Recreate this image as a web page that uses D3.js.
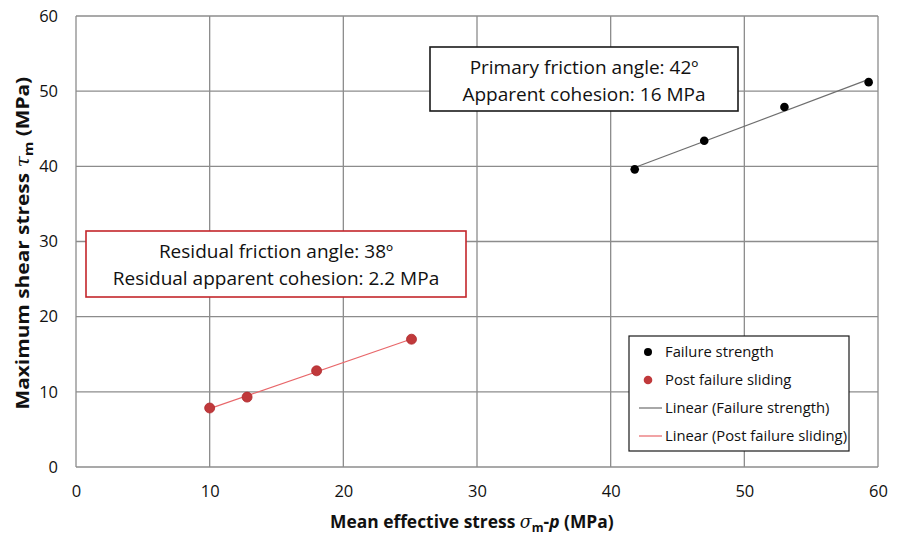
<!DOCTYPE html>
<html>
<head>
<meta charset="utf-8">
<script src="https://cdn.jsdelivr.net/npm/d3@7"></script>
<style>
  body { margin: 0; background: #fff; }
  svg { display: block; font-family: "Open Sans", "Noto Sans", sans-serif; }
</style>
</head>
<body>
<svg id="chart" width="901" height="537"></svg>
<script>
// Mean effective stress vs. maximum shear stress (MPa)
const failureX = [41.8, 47.0, 53.0, 59.3];
const failureY = [39.6, 43.4, 47.9, 51.2];
const slidingX = [10.0, 12.8, 18.0, 25.1];
const slidingY = [7.85, 9.3, 12.8, 17.0];
const xTicks = [0, 10, 20, 30, 40, 50, 60];
const yTicks = [0, 10, 20, 30, 40, 50, 60];
const primaryNotes = ["Primary friction angle: 42\u00BA", "Apparent cohesion: 16 MPa"];
const residualNotes = ["Residual friction angle: 38\u00BA", "Residual apparent cohesion: 2.2 MPa"];
const legendItems = ["Failure strength", "Post failure sliding", "Linear (Failure strength)", "Linear (Post failure sliding)"];

const svg = d3.select("#chart");
const margin = { left: 76, right: 23, top: 16, bottom: 70 };
const W = 901, H = 537;
const x = d3.scaleLinear().domain([0, 60]).range([margin.left, W - margin.right]);
const y = d3.scaleLinear().domain([0, 60]).range([H - margin.bottom, margin.top]);

const gridColor = "#8c8c8c";
const g = svg.append("g");

// grid
g.selectAll(".vg").data(xTicks).join("line")
  .attr("x1", d => x(d)).attr("x2", d => x(d))
  .attr("y1", y(0)).attr("y2", y(60))
  .attr("stroke", gridColor).attr("stroke-width", 1.3);
g.selectAll(".hg").data(yTicks).join("line")
  .attr("y1", d => y(d)).attr("y2", d => y(d))
  .attr("x1", x(0)).attr("x2", x(60))
  .attr("stroke", gridColor).attr("stroke-width", 1.3);

// axes tick labels
const xAxis = d3.axisBottom(x).tickValues(xTicks).tickSize(0).tickPadding(18);
const yAxis = d3.axisLeft(y).tickValues(yTicks).tickSize(0).tickPadding(18);
const gx = svg.append("g").attr("transform", `translate(0,${y(0)})`).call(xAxis);
const gy = svg.append("g").attr("transform", `translate(${x(0)},0)`).call(yAxis);
[gx, gy].forEach(a => {
  a.select(".domain").remove();
  a.selectAll("text").attr("font-size", 16.5).attr("fill", "#111")
    .attr("font-family", "'Open Sans', sans-serif");
});

// linear fits
function fit(xs, ys) {
  const mx = d3.mean(xs), my = d3.mean(ys);
  const sxy = d3.sum(xs, (v, i) => (v - mx) * (ys[i] - my));
  const sxx = d3.sum(xs, v => (v - mx) * (v - mx));
  const b = sxy / sxx;
  return v => my + b * (v - mx);
}
const fF = fit(failureX, failureY);
const fS = fit(slidingX, slidingY);
const ext = d3.extent(failureX), extS = d3.extent(slidingX);
svg.append("line")
  .attr("x1", x(ext[0])).attr("y1", y(fF(ext[0])))
  .attr("x2", x(ext[1])).attr("y2", y(fF(ext[1])))
  .attr("stroke", "#6e6e6e").attr("stroke-width", 1.2);
svg.append("line")
  .attr("x1", x(extS[0])).attr("y1", y(fS(extS[0])))
  .attr("x2", x(extS[1])).attr("y2", y(fS(extS[1])))
  .attr("stroke", "#e8676a").attr("stroke-width", 1.2);

// points
svg.append("g").selectAll("circle").data(failureX).join("circle")
  .attr("cx", d => x(d)).attr("cy", (d, i) => y(failureY[i])).attr("r", 4.3)
  .attr("fill", "#000");
svg.append("g").selectAll("circle").data(slidingX).join("circle")
  .attr("cx", d => x(d)).attr("cy", (d, i) => y(slidingY[i])).attr("r", 5)
  .attr("fill", "#c0393b").attr("stroke", "#b02a2d").attr("stroke-width", 0.8);

// annotation boxes
function noteBox(x0, y0, w, h, lines, stroke) {
  svg.append("rect").attr("x", x0).attr("y", y0).attr("width", w).attr("height", h)
    .attr("fill", "#fff").attr("stroke", stroke).attr("stroke-width", 1.6);
  svg.append("g").selectAll("text").data(lines).join("text")
    .attr("x", x0 + w / 2).attr("y", (d, i) => y0 + 27 + i * 27)
    .attr("text-anchor", "middle").attr("font-size", 19).attr("fill", "#111")
    .text(d => d);
}
noteBox(430, 47, 308, 64, primaryNotes, "#1a1a1a");
noteBox(86, 231, 380, 66, residualNotes, "#c4262b");

// legend
const lg = svg.append("g").attr("transform", "translate(629,336)");
lg.append("rect").attr("width", 220).attr("height", 115)
  .attr("fill", "#fff").attr("stroke", "#1a1a1a").attr("stroke-width", 1.2);
const rowY = i => 16 + i * 28;
lg.append("circle").attr("cx", 19).attr("cy", rowY(0)).attr("r", 4).attr("fill", "#000");
lg.append("circle").attr("cx", 19).attr("cy", rowY(1)).attr("r", 4.3).attr("fill", "#c0393b");
lg.append("line").attr("x1", 10).attr("x2", 33).attr("y1", rowY(2)).attr("y2", rowY(2))
  .attr("stroke", "#6e6e6e").attr("stroke-width", 1.2);
lg.append("line").attr("x1", 10).attr("x2", 33).attr("y1", rowY(3)).attr("y2", rowY(3))
  .attr("stroke", "#e8676a").attr("stroke-width", 1.2);
lg.selectAll(".lt").data(legendItems).join("text")
  .attr("x", 36).attr("y", (d, i) => rowY(i) + 5)
  .attr("font-size", 14.8).attr("fill", "#111").text(d => d);

// axis titles, centred and fitted to a given span
function fitTitle(t, cx, cy, span, rotate) {
  const bb = t.node().getBBox();
  const s = span / bb.width;
  t.attr("transform",
    `translate(${cx},${cy}) rotate(${rotate}) scale(${s},1) translate(${-bb.x - bb.width / 2},0)`);
}
const xt = svg.append("text").attr("x", 0).attr("y", 0)
  .attr("font-size", 18).attr("font-weight", "bold").attr("fill", "#111");
xt.append("tspan").text("Mean effective stress ");
xt.append("tspan").attr("font-style", "italic").attr("font-weight", "normal")
  .attr("font-family", "'DejaVu Serif', serif").text("\u03C3");
xt.append("tspan").attr("font-size", 12.5).attr("dy", 4).text("m");
xt.append("tspan").attr("dy", -4).text("-");
xt.append("tspan").attr("font-style", "italic").text("p");
xt.append("tspan").text(" (MPa)");
fitTitle(xt, 472, 528, 284, 0);

const yt = svg.append("text").attr("x", 0).attr("y", 0)
  .attr("font-size", 18).attr("font-weight", "bold").attr("fill", "#111");
yt.append("tspan").text("Maximum shear stress ");
yt.append("tspan").attr("font-style", "italic").attr("font-weight", "normal")
  .attr("font-family", "'DejaVu Serif', serif").text("\u03C4");
yt.append("tspan").attr("font-size", 12.5).attr("dy", 4).text("m");
yt.append("tspan").attr("dy", -4).text(" (MPa)");
fitTitle(yt, 29, 243, 333, -90);
</script>
</body>
</html>
